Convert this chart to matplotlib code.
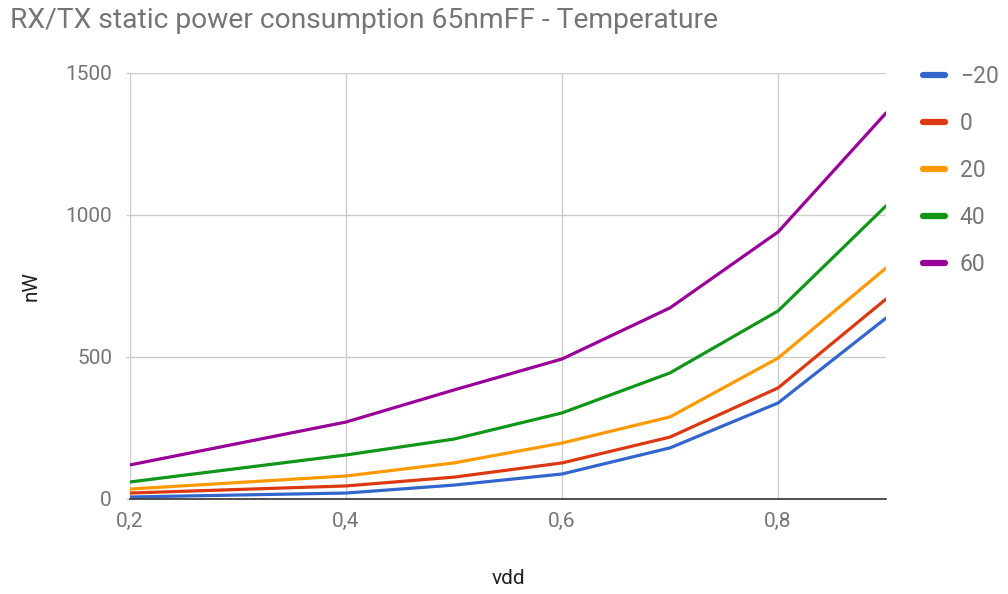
import matplotlib
matplotlib.use("Agg")
import matplotlib.pyplot as plt
from matplotlib.ticker import FuncFormatter

plt.rcParams['font.family'] = ['Roboto', 'DejaVu Sans']

# Supply voltage (V)
vdd = [0.2, 0.4, 0.5, 0.6, 0.7, 0.8, 0.9]

# Static power (nW) per temperature (°C)
temps = ["\u221220", "0", "20", "40", "60"]
p_m20 = [7, 21, 49, 88, 180, 338, 637]
p_0 = [21, 46, 77, 127, 218, 391, 704]
p_20 = [35, 81, 127, 197, 289, 496, 813]
p_40 = [60, 155, 211, 303, 444, 662, 1032]
p_60 = [120, 271, 384, 493, 673, 940, 1359]
series = [p_m20, p_0, p_20, p_40, p_60]

colors = ["#3366cc", "#dc3912", "#ff9900", "#109618", "#990099"]

x_ticks = [0.2, 0.4, 0.6, 0.8]
y_ticks = [0, 500, 1000, 1500]

fig = plt.figure(figsize=(10.08, 5.94), dpi=100)
ax = fig.add_axes([130 / 1008, 95 / 594, 756 / 1008, 426 / 594])

for vals, c, lab in zip(series, colors, temps):
    ax.plot(vdd, vals, color=c, lw=2.3, label=lab, solid_capstyle='round',
            solid_joinstyle='round')

ax.set_xlim(0.2, 0.9)
ax.set_ylim(0, 1500)
ax.set_xticks(x_ticks)
ax.set_yticks(y_ticks)
ax.xaxis.set_major_formatter(FuncFormatter(lambda v, p: f"{v:.1f}".replace(".", ",")))
ax.yaxis.set_major_formatter(FuncFormatter(lambda v, p: f"{int(v)}"))

ax.grid(True, color="#cccccc", lw=1)
ax.set_axisbelow(True)
for s in ["top", "right", "left"]:
    ax.spines[s].set_visible(False)
ax.spines["bottom"].set_color("#333333")
ax.spines["bottom"].set_linewidth(1.2)
ax.spines["bottom"].set_zorder(5)

ax.tick_params(axis="both", labelsize=15, labelcolor="#757575")
ax.tick_params(axis="x", length=0, pad=9)
ax.tick_params(axis="y", length=3, width=1, color="#cccccc", pad=10)

ax.set_xlabel("vdd", fontsize=15, color="#222222")
ax.xaxis.set_label_coords(0.5, -0.165)
ax.set_ylabel("nW", fontsize=15, color="#222222", labelpad=18)

fig.text(10 / 1008, 1 - 21 / 594, "RX/TX static power consumption 65nmFF - Temperature",
         fontsize=20.3, color="#757575", ha="left", va="center")

leg = fig.legend(loc="upper left", bbox_to_anchor=(923 / 1008, 1 - 65 / 594),
                 frameon=False, fontsize=16.5, handlelength=0.95, handletextpad=0.65,
                 labelspacing=1.05, borderaxespad=0, borderpad=0)
for t in leg.get_texts():
    t.set_color("#757575")
for h in leg.get_lines():
    h.set_linewidth(4.5)
    h.set_solid_capstyle('round')

fig.savefig("out.png", dpi=100)
